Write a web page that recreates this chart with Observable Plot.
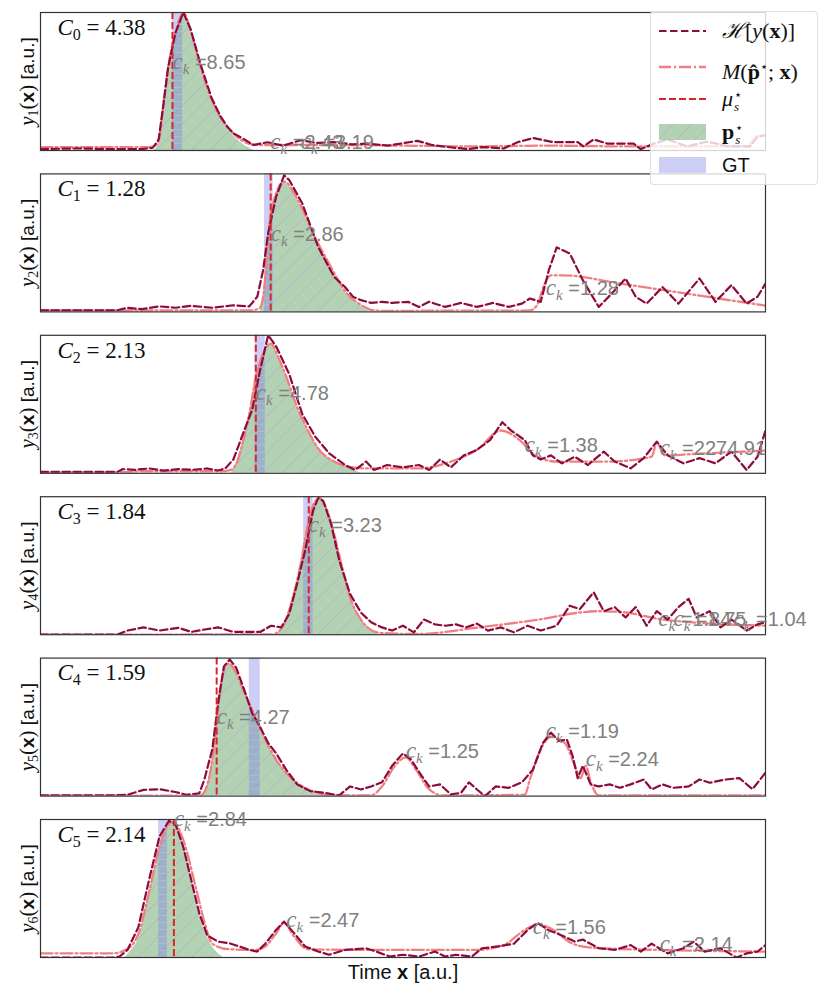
<!DOCTYPE html>
<html><head><meta charset="utf-8">
<script src="https://cdn.jsdelivr.net/npm/d3@7"></script>
<script src="https://cdn.jsdelivr.net/npm/@observablehq/plot@0.6"></script>
<style>
body{margin:0;background:#fff;}
#wrap{position:relative;width:830px;height:997px;}
#legend{position:absolute;left:650px;top:11px;width:168px;height:174px;background:rgba(255,255,255,0.8);border:1px solid rgba(215,215,215,0.8);border-radius:4px;box-sizing:border-box;}
.row{position:absolute;left:0;width:168px;height:30px;}
.row svg{position:absolute;left:7px;top:5px;}
.lab{position:absolute;left:71px;top:0;height:30px;line-height:30px;font-family:"Liberation Serif","DejaVu Serif",serif;font-size:22px;color:#111;white-space:nowrap;}
.lab b{font-weight:bold;}
.ss{display:inline-block;vertical-align:middle;line-height:0.9;font-size:13px;margin-left:1px;text-align:left;}
.ss span{display:block;}
.sans{font-family:"Liberation Sans","DejaVu Sans",sans-serif;font-size:20px;}
</style></head>
<body><div id="wrap"><div id="plot"></div>
<div id="legend">
  <div class="row" style="top:4px"><svg width="50" height="20"><line x1="1" y1="10" x2="48" y2="10" stroke="#8e0b3e" stroke-width="2.2" stroke-dasharray="7.5,3.5"/></svg><div class="lab"><span style="font-family:'DejaVu Serif',serif;font-style:italic;">ℋ</span>[<i>y</i>(<b>x</b>)]</div></div>
  <div class="row" style="top:40px"><svg width="50" height="20"><line x1="1" y1="10" x2="48" y2="10" stroke="#f08080" stroke-width="2.3" stroke-dasharray="12,3,2,3"/></svg><div class="lab"><i>M</i>(<b>p̂</b><sup style="font-size:13px">⋆</sup>; <b>x</b>)</div></div>
  <div class="row" style="top:72px"><svg width="50" height="20"><line x1="1" y1="10" x2="48" y2="10" stroke="#d62728" stroke-width="2" stroke-dasharray="7,3"/></svg><div class="lab"><i>μ</i><span class="ss"><span>⋆</span><span style="font-style:italic">s</span></span></div></div>
  <div class="row" style="top:105px"><svg width="50" height="20"><defs><pattern id="lg" patternUnits="userSpaceOnUse" width="18" height="18"><path d="M-4.5,4.5 l9,-9 M0,18 l18,-18 M13.5,22.5 l9,-9" stroke="#b4b4c8" stroke-width="1"/></pattern></defs><rect x="1" y="2" width="47" height="16" fill="#8fbc8f" fill-opacity="0.68"/><rect x="1" y="2" width="47" height="16" fill="url(#lg)"/></svg><div class="lab"><b>p</b><span class="ss"><span>⋆</span><span style="font-style:italic">s</span></span></div></div>
  <div class="row" style="top:138px"><svg width="50" height="20"><defs><pattern id="lb" patternUnits="userSpaceOnUse" width="7" height="7"><path d="M0,3.5 h7" stroke="#e4e4c0" stroke-width="1"/></pattern></defs><rect x="1" y="2" width="47" height="16" fill="#7b7bf0" fill-opacity="0.38"/><rect x="1" y="2" width="47" height="16" fill="url(#lb)" opacity="0.3"/></svg><div class="lab sans">GT</div></div>
</div>
</div>
<script>
// ---- data (t: time 0..100 a.u., v: normalised amplitude) ----
const C_values = ["4.38", "1.28", "2.13", "1.84", "1.59", "2.14"];
const muStar = [18.2, 31.75, 29.7, 37.0, 24.3, 18.4];
const gtStart = [18.2, 30.9, 29.6, 36.3, 28.8, 16.3];
const gtEnd = [19.6, 32.1, 31.0, 37.6, 30.3, 17.5];

const hilbert0 = [[0,.01],[5,.015],[10,.01],[14,.01],[15.5,.02],[16.3,.08],[17,.35],[17.6,.6],[18.6,.85],[19.7,1.0],[20.7,.88],[22.1,.62],[23.6,.38],[24.8,.25],[25.8,.17],[26.6,.125],[27.8,.09],[29.4,.04],[31.3,.06],[33.5,.035],[35.9,.075],[38,.055],[40.4,.06],[43,.045],[45.1,.05],[47.9,.035],[49.7,.05],[52,.07],[54,.04],[57,.02],[59,.01],[61,.025],[63.9,.015],[65.8,.06],[68,.09],[70.8,.06],[74.1,.06],[74.9,.03],[76.3,.08],[78.2,.05],[81.8,.05],[82.8,.01],[84.6,.05],[86.5,.08],[89.2,.03],[92,.065],[94.8,.03],[97.9,.03],[98.9,.1],[100,.11]];
const hilbert1 = [[0,.012],[10.6,.012],[12,.03],[14,.02],[16.4,.04],[18.6,.03],[20.8,.044],[23.7,.03],[26.6,.048],[28.8,.04],[29.9,.11],[30.7,.3],[31.4,.57],[32.5,.835],[33.6,.99],[34.3,.956],[36.1,.787],[38.3,.47],[40.5,.254],[42,.18],[43.1,.11],[44.2,.085],[45.6,.065],[47.1,.073],[48.5,.065],[50.7,.073],[52.2,.036],[53.6,.073],[55.8,.036],[58,.065],[60.2,.036],[62.4,.065],[64.6,.036],[66.4,.06],[67.5,.097],[69,.073],[70.1,.3],[71.2,.467],[73,.424],[74.8,.23],[77,.036],[78.8,.133],[80.7,.242],[82.1,.11],[83.6,.06],[85.8,.18],[88,.06],[90.9,.242],[93.1,.073],[95.3,.194],[97.4,.06],[98.9,.11],[100,.206]];
const hilbert2 = [[0,.01],[10.6,.01],[11.3,.03],[13,.025],[15,.035],[17,.02],[19,.03],[21,.025],[23,.035],[24.5,.02],[25.5,.036],[26.6,.1],[28.1,.31],[29.2,.46],[30.3,.75],[31.4,1.0],[32.5,.92],[34.3,.72],[36.1,.43],[37.9,.265],[39.8,.145],[42,.06],[43.4,.024],[44.9,.085],[46,.024],[47.8,.06],[50,.043],[52.2,.06],[53.6,.024],[55.1,.1],[56.6,.043],[58.4,.13],[60.2,.17],[62,.24],[63.7,.37],[64.9,.31],[66.8,.24],[67.9,.13],[69,.1],[70.4,.13],[71.9,.072],[73.7,.12],[75.5,.06],[77.7,.157],[79.2,.085],[81.4,.036],[83.2,.11],[85,.23],[86.5,.13],[88.7,.072],[90.9,.11],[93.1,.072],[95.3,.157],[97.4,.024],[98.9,.12],[100,.31]];
const hilbert3 = [[0,0],[10.6,0],[12,.03],[14.2,.053],[16.4,.03],[19,.05],[20.8,.02],[22.3,.035],[24.5,.053],[26.6,.02],[28.8,.02],[30.3,.02],[31.8,.065],[33.2,.053],[34.3,.15],[35.4,.37],[36.5,.61],[37.6,.9],[38.3,.99],[39,.97],[40.1,.8],[41.2,.54],[42.7,.295],[44.2,.16],[45.6,.09],[47.1,.053],[48.5,.03],[50,.065],[51.5,.017],[52.9,.11],[54.4,.075],[55.8,.065],[57.3,.075],[58.7,.053],[60.2,.08],[61.7,.03],[63.5,.053],[65.3,.017],[67.2,.065],[69,.03],[71.2,.065],[73,.21],[74.4,.186],[76.3,.307],[77.7,.17],[79.2,.2],[80.7,.125],[82.1,.2],[83.6,.065],[85,.17],[86.5,.11],[88,.2],[89.4,.26],[90.5,.125],[92.3,.17],[93.8,.053],[95.3,.11],[97.4,.03],[98.9,.075],[100,.09]];
const hilbert4 = [[0,.005],[10,.005],[12,.01],[14.2,.045],[16.4,.05],[18.6,.03],[20.1,.01],[21.9,.02],[22.6,.12],[23.7,.34],[24.5,.675],[25.3,.94],[26.1,.99],[27,.93],[28.1,.77],[29.2,.6],[30.3,.5],[31.4,.385],[32.5,.31],[33.9,.19],[35.4,.085],[37.2,.036],[39.1,.024],[41.2,.005],[42.7,.07],[44.2,.048],[45.6,.07],[47.1,.1],[48.5,.22],[50,.31],[51.1,.265],[52.6,.145],[53.6,.07],[55.1,.085],[56.6,.012],[58,.024],[59.1,.1],[60.2,.048],[61.3,0],[62.8,.07],[64.6,.06],[66.4,.1],[67.9,.19],[69.3,.385],[70.4,.46],[71.5,.4],[72.6,.41],[73.4,.29],[74.1,.13],[74.8,.22],[75.9,.085],[77,.07],[78.5,.085],[79.9,.06],[81.4,.085],[83.2,.12],[84.3,.048],[85.8,.085],[87.2,.06],[89.4,.07],[90.9,.12],[92.3,.097],[94.5,.12],[96.4,.13],[98.2,.05],[100,.17]];
const hilbert5 = [[0,0],[10.2,0],[10.9,.007],[12,.055],[13.5,.22],[14.96,.56],[16.4,.875],[17.7,.99],[18.6,.97],[19.7,.8],[20.8,.56],[21.9,.32],[23,.16],[24.5,.115],[26,.104],[27.4,.08],[28.8,.055],[29.9,.043],[31,.1],[32.5,.2],[33.6,.26],[35,.175],[36.5,.08],[38.3,.043],[39.8,.02],[42,.055],[44.9,.067],[46.3,.043],[48.2,.007],[50,.02],[52.2,.007],[54.4,.043],[55.8,.007],[57.3,.02],[59.5,.007],[60.9,.067],[63.1,.08],[65.3,.1],[67.2,.2],[68.6,.25],[70,.2],[71.9,.16],[73.7,.115],[74.8,.13],[77,.067],[79.2,.055],[81.4,.09],[82.8,.043],[84.3,.1],[86.5,.03],[88.7,.067],[90.1,.115],[91.6,.043],[93.8,.067],[96,0],[97.4,.03],[98.9,.043],[100,.09]];

const model0 = [[0,.025],[15,.025],[15.6,.03],[16.3,.07],[17,.36],[17.6,.6],[18.6,.85],[19.3,.97],[19.7,1],[20.7,.87],[22.1,.6],[23.6,.37],[24.8,.24],[25.8,.17],[27.3,.09],[28.7,.05],[30,.04],[40,.04],[50,.035],[60,.03],[70,.035],[80,.03],[90,.03],[97.6,.03],[98.6,.1],[100,.11]];
const model1 = [[0,.01],[29,.01],[30.3,.03],[31,.25],[31.4,.545],[32.1,.79],[33.6,.944],[35.4,.82],[37.6,.57],[39.8,.35],[42.3,.13],[44.2,.05],[45.6,.015],[47,.008],[67.5,.01],[68.5,.05],[69.5,.2],[70.4,.265],[72,.265],[80,.205],[90,.125],[100,.045]];
const model2 = [[0,.005],[12,.008],[14,.015],[25,.015],[26.3,.025],[27,.07],[28.1,.265],[28.8,.43],[29.6,.67],[30.7,.87],[31.8,.94],[32.8,.84],[33.9,.7],[35.4,.48],[36.9,.31],[38.3,.18],[40.5,.085],[42.7,.045],[45,.035],[52,.035],[56.6,.085],[60.2,.17],[63.5,.31],[66.1,.24],[68.2,.13],[71.2,.085],[78.5,.085],[84.3,.12],[85,.22],[86.1,.13],[90,.14],[100,.165]];
const model3 = [[0,0],[32,.003],[32.5,.01],[33.6,.077],[34.7,.25],[35.8,.49],[36.7,.75],[37.7,.95],[38.5,.99],[39.4,.92],[40.5,.73],[41.6,.49],[42.7,.27],[44.2,.11],[45.6,.035],[47,.012],[52.2,.005],[60,.05],[67.5,.1],[77,.17],[80,.165],[85.8,.11],[100,.065]];
const model4 = [[0,.003],[22,.003],[22.3,.01],[23.4,.17],[24.1,.43],[24.8,.77],[25.5,.94],[26,.96],[27,.89],[28.1,.75],[29.6,.58],[31,.41],[32.5,.265],[34.3,.145],[36.1,.07],[38.3,.024],[39.8,.008],[45.6,.005],[47.1,.07],[48.9,.22],[50.4,.28],[51.8,.19],[53.6,.05],[55.5,.005],[66.8,.01],[67.5,.12],[69,.34],[70.4,.43],[72.3,.385],[73.7,.22],[74.5,.13],[75.2,.22],[75.9,.1],[77,.005],[100,.005]];
const model5 = [[0,.03],[10,.03],[11.3,.045],[12.8,.1],[13.5,.17],[14.96,.47],[16.4,.8],[17.5,.95],[18,.98],[18.6,.97],[19.7,.85],[21.5,.49],[22.6,.26],[23.7,.1],[25.9,.06],[29.6,.055],[31,.08],[32.5,.175],[33.6,.25],[35,.15],[36.9,.06],[45,.055],[60.2,.055],[63.9,.09],[66.8,.2],[68.6,.24],[70.4,.21],[73.4,.1],[76.3,.07],[85,.055],[100,.043]];

const pstar0 = [[15.6,0],[16.3,.05],[17,.35],[17.6,.59],[18.6,.84],[19.3,.96],[19.7,.99],[20.7,.86],[22.1,.59],[23.6,.36],[24.8,.23],[25.8,.16],[27.3,.07],[28.7,.02],[29.5,0]];
const pstar1 = [[30.3,0],[31,.24],[31.4,.54],[32.1,.78],[33.6,.935],[35.4,.81],[37.6,.56],[39.8,.34],[42.3,.12],[44.2,.04],[45.6,0]];
const pstar2 = [[26.3,0],[27,.07],[28.1,.265],[28.8,.43],[29.6,.67],[30.7,.87],[31.8,.94],[32.8,.84],[33.9,.7],[35.4,.48],[36.9,.31],[38.3,.18],[40.5,.085],[42.7,.036],[44.2,0]];
const pstar3 = [[32.5,0],[33.6,.077],[34.7,.25],[35.8,.49],[36.7,.75],[37.7,.95],[38.5,.99],[39.4,.92],[40.5,.73],[41.6,.49],[42.7,.27],[44.2,.11],[45.6,.03],[46.7,0]];
const pstar4 = [[22.3,0],[23.4,.17],[24.1,.43],[24.8,.77],[25.5,.94],[26,.96],[27,.89],[28.1,.75],[29.6,.58],[31,.41],[32.5,.265],[34.3,.145],[36.1,.07],[38.3,.024],[39.8,0]];
const pstar5 = [[11.7,0],[12.5,.05],[13.5,.13],[14.96,.44],[16.4,.78],[17.5,.95],[18.2,.99],[19.3,.9],[20.4,.68],[21.5,.39],[22.6,.2],[23.7,.08],[25.2,0]];

// component labels: [t, v, c_k]
const ck0 = [[18.2,.634,"8.65"],[31.7,.054,"2.43"],[35.9,.054,"3.19"]];
const ck1 = [[31.75,.557,"2.86"],[69.7,.17,"1.28"]];
const ck2 = [[29.7,.58,"4.78"],[66.8,.2,"1.38"],[85.4,.18,"2274.91"]];
const ck3 = [[37,.79,"3.23"],[85.2,.11,"1.84"],[87.3,.11,"1.75"],[95.6,.11,"1.04"]];
const ck4 = [[24.3,.57,"4.27"],[50.4,.325,"1.25"],[69.7,.47,"1.19"],[75.2,.265,"2.24"]];
const ck5 = [[18.4,1.0,"2.84"],[33.9,.27,"2.47"],[67.9,.22,"1.56"],[85.4,.09,"2.14"]];

const hilbert = [hilbert0,hilbert1,hilbert2,hilbert3,hilbert4,hilbert5];
const model = [model0,model1,model2,model3,model4,model5];
const pstar = [pstar0,pstar1,pstar2,pstar3,pstar4,pstar5];
const ckLabels = [ck0,ck1,ck2,ck3,ck4,ck5];

const flat = arr => arr.flatMap((s,p) => s.map(([t,v]) => ({p,t,v})));
const hRows = flat(hilbert), mRows = flat(model), pRows = flat(pstar);
const ckRows = ckLabels.flatMap((s,p) => s.map(([t,v,c]) => ({p,t,v,c})));
const muRows = muStar.map((t,p) => ({p,t}));
const gtRows = gtStart.map((a,p) => ({p,a,b:gtEnd[p],y1:0,y2:1}));
const panels = d3.range(6);

const SERIF = "Liberation Serif, DejaVu Serif, serif";
const SANS = "Liberation Sans, DejaVu Sans, sans-serif";

const chart = Plot.plot({
  width: 830, height: 997,
  marginLeft: 40, marginRight: 65, marginTop: 12, marginBottom: 40,
  x: {domain: [0,100], axis: null},
  y: {domain: [0,1], axis: null},
  fy: {domain: panels, axis: null, paddingInner: 0.145, paddingOuter: 0, round: false},
  marks: [
    Plot.areaY(pRows, {x:"t", y:"v", fy:"p", fill:"#8fbc8f", fillOpacity:0.68, curve:"monotone-x", clip:true}),
    Plot.areaY(pRows, {x:"t", y:"v", fy:"p", fill:"url(#hatchG)", curve:"monotone-x", clip:true}),
    Plot.rect(gtRows, {x1:"a", x2:"b", y1:"y1", y2:"y2", fy:"p", fill:"#7b7bf0", fillOpacity:0.38}),
    Plot.rect(gtRows, {x1:"a", x2:"b", y1:"y1", y2:"y2", fy:"p", fill:"url(#hatchB)", fillOpacity:0.25}),
    Plot.line(mRows, {x:"t", y:"v", fy:"p", stroke:"#f08080", strokeWidth:2.3, strokeDasharray:"12,3,2,3", curve:"monotone-x", clip:true}),
    Plot.line(hRows, {x:"t", y:"v", fy:"p", stroke:"#8e0b3e", strokeWidth:2.2, strokeDasharray:"7.5,3.5", clip:true}),
    Plot.ruleX(muRows, {x:"t", fy:"p", stroke:"#d62728", strokeWidth:2, strokeDasharray:"7,3"}),
    Plot.frame({stroke:"#333", strokeWidth:1.2}),
    Plot.text(ckRows, {x:"t", y:"v", fy:"p", text: d => `c_k =${d.c}`, textAnchor:"start", lineAnchor:"middle", fill:"#808080", fontSize:20, fontFamily:SANS}),
    Plot.text(panels, {fy: d => d, text: d => `C_${d} = ${C_values[d]}`, frameAnchor:"top-left", dx:17, dy:15, textAnchor:"start", lineAnchor:"middle", fontSize:23, fontFamily:SERIF, fill:"#111"}),
    Plot.text(panels, {fy: d => d, text: d => `y_${d+1}(x) [a.u.]`, frameAnchor:"left", dx:-13, rotate:-90, textAnchor:"middle", lineAnchor:"middle", fontSize:19, fontFamily:SERIF, fill:"#111"}),
    Plot.text([5], {fy: d => d, text: () => "Time x [a.u.]", frameAnchor:"bottom", dy:15, textAnchor:"middle", lineAnchor:"middle", fontSize:20, fontFamily:SANS, fill:"#111"})
  ]
});

// pattern definitions for the hatched fills
d3.select(chart).insert("defs", ":first-child").html(`
  <pattern id="hatchG" patternUnits="userSpaceOnUse" width="18" height="18">
    <path d="M-4.5,4.5 l9,-9 M0,18 l18,-18 M13.5,22.5 l9,-9" stroke="#b4b4c8" stroke-width="1"/>
  </pattern>
  <pattern id="hatchB" patternUnits="userSpaceOnUse" width="7" height="7">
    <path d="M0,3.5 h7" stroke="#e4e4c0" stroke-width="1"/>
  </pattern>`);

// typeset the math-like labels with tspans
const NS = "http://www.w3.org/2000/svg";
function typeset(el, parts) {
  el.textContent = "";
  for (const [txt, st] of parts) {
    const ts = document.createElementNS(NS, "tspan");
    ts.textContent = txt;
    for (const k in st) ts.setAttribute(k, st[k]);
    el.appendChild(ts);
  }
}
d3.select(chart).selectAll("text").each(function() {
  const s = this.textContent;
  let m;
  if ((m = s.match(/^c_k =(.*)$/))) {
    typeset(this, [["c", {"font-family":SERIF, "font-style":"italic", "font-size":"23"}], ["k", {"font-family":SERIF, "font-style":"italic", "font-size":"15", dy:"5"}], ["\u00a0=" + m[1], {dy:"-5"}]]);
  } else if ((m = s.match(/^C_(\d) = (.*)$/))) {
    typeset(this, [["C", {"font-style":"italic"}], [m[1], {"font-size":"16", dy:"5"}], ["\u00a0=\u00a0" + m[2], {dy:"-5"}]]);
  } else if ((m = s.match(/^y_(\d)\(x\)/))) {
    typeset(this, [["y", {"font-style":"italic", "font-size":"21"}], [m[1], {"font-size":"14", dy:"4"}], ["(", {dy:"-4", "font-size":"21"}], ["x", {"font-family":SANS, "font-weight":"bold"}], [")", {"font-size":"21"}], [" [a.u.]", {"font-family":SANS}]]);
  } else if (/^Time x/.test(s)) {
    typeset(this, [["Time ", {}], ["x", {"font-weight":"bold"}], [" [a.u.]", {}]]);
  }
});

document.getElementById("plot").appendChild(chart);
</script>
</body></html>
